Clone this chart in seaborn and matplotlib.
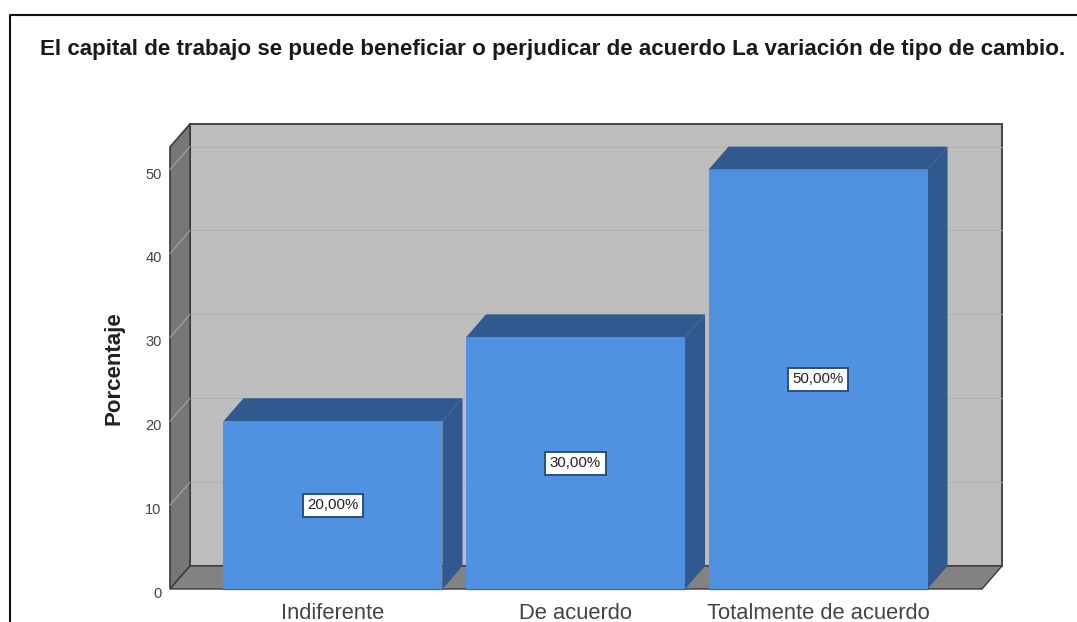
import pandas as pd
import seaborn as sns
import matplotlib.pyplot as plt
from matplotlib.lines import Line2D
from matplotlib.patches import Polygon
from matplotlib.transforms import ScaledTranslation

sns.set_theme(style='white')
plt.rcParams['font.family'] = ['Liberation Sans', 'DejaVu Sans']

categories = ['Indiferente', 'De acuerdo', 'Totalmente de acuerdo']
percentages = [20, 30, 50]
bar_labels = ['20,00%', '30,00%', '50,00%']
y_ticks = [0, 10, 20, 30, 40, 50]
title = ('El capital de trabajo se puede beneficiar o perjudicar '
         'de acuerdo La variación de tipo de cambio.')

W, H = 1077, 622
FRONT = '#5191E2'
SIDE = '#305A8F'
WALL = '#BDBDBD'
SIDE_WALL = '#777777'
FLOOR = '#828282'


def main():
    fig = plt.figure(figsize=(W / 100, H / 100), dpi=100)
    # front plane of the 3d box, in pixels of the reference
    ax = fig.add_axes([170 / W, 1 - 589 / H, 812 / W, 442 / H])
    data = pd.DataFrame({'cat': categories, 'pct': percentages})
    sns.barplot(x='cat', y='pct', data=data, color=FRONT, saturation=1,
                width=0.903, ax=ax, zorder=4, linewidth=0)
    ax.set_xlim(-0.672, 2.676)
    ax.set_ylim(0, 52.7)

    # depth of the box in data units
    dx = 20 / 242.5
    dy = 23 / 8.38
    x0, x1 = ax.get_xlim()
    y0, y1 = ax.get_ylim()

    def poly(points, color, z, edge='none', lw=0):
        ax.add_patch(Polygon(points, closed=True, facecolor=color, zorder=z,
                             edgecolor=edge, linewidth=lw, clip_on=False))

    # back wall, side wall and floor
    poly([(x0 + dx, y0 + dy), (x1 + dx, y0 + dy), (x1 + dx, y1 + dy),
          (x0 + dx, y1 + dy)], WALL, 1, '#444444', 1.4)
    poly([(x0, y0), (x0 + dx, y0 + dy), (x0 + dx, y1 + dy), (x0, y1)],
         SIDE_WALL, 1.2, '#3a3a3a', 1.2)
    poly([(x0, y0), (x1, y0), (x1 + dx, y0 + dy), (x0 + dx, y0 + dy)],
         FLOOR, 1.2, '#3a3a3a', 1.0)

    # grid lines run along the side wall and the back wall
    for t in y_ticks[1:]:
        ax.plot([x0, x0 + dx], [t, t + dy], color='#ababab', lw=0.7,
                zorder=1.5, clip_on=False)
        ax.plot([x0 + dx, x1 + dx], [t + dy, t + dy], color='#b2b2b2', lw=0.7,
                zorder=1.1, clip_on=False)

    # top and right faces of every bar
    for bar, text in zip(ax.patches[:len(categories)], bar_labels):
        left = bar.get_x()
        right = left + bar.get_width()
        top = bar.get_height()
        poly([(left, top), (right, top), (right + dx, top + dy),
              (left + dx, top + dy)], SIDE, 3)
        poly([(right, 0), (right + dx, dy), (right + dx, top + dy),
              (right, top)], SIDE, 3)
        ax.plot([left, right], [0, 0], color='#3f6fa8', lw=1.0, zorder=5,
                clip_on=False)
        ax.text(left + bar.get_width() / 2, top / 2, text, ha='center',
                va='center', fontsize=10.8, color='#222222', zorder=6,
                bbox=dict(boxstyle='square,pad=0.3', facecolor='white',
                          edgecolor='#2a4f80', linewidth=1.4))

    sns.despine(ax=ax, left=True, bottom=True, top=True, right=True)
    ax.patch.set_visible(False)
    ax.set_yticks(y_ticks)
    ax.tick_params(axis='both', length=0)
    ax.tick_params(axis='y', labelsize=10.5, labelcolor='#444444', pad=6)
    ax.tick_params(axis='x', labelsize=15.8, labelcolor='#444444', pad=10)
    # the y tick labels sit a little under their grid level
    shift = ScaledTranslation(0, -2.5 / 72, fig.dpi_scale_trans)
    for label in ax.get_yticklabels():
        label.set_transform(label.get_transform() + shift)
    ax.set_xlabel('')
    ax.set_ylabel('Porcentaje', fontsize=16, fontweight='bold',
                  color='#222222')
    ax.yaxis.set_label_coords((124 - 170) / 812, (589 - 368.5) / 442)

    fig.text(553 / W, 1 - 49 / H, title, ha='center', va='center',
             fontsize=16.1, fontweight='bold', color='#1a1a1a')

    # frame of the cropped screenshot: only left and top edges are visible
    fig.add_artist(Line2D([9.5 / W, 9.5 / W, 1], [0, 1 - 15 / H, 1 - 15 / H],
                          color='#111111', lw=1.5))

    fig.savefig('out.png', dpi=100, facecolor='white')
    plt.close()


if __name__ == '__main__':
    main()
